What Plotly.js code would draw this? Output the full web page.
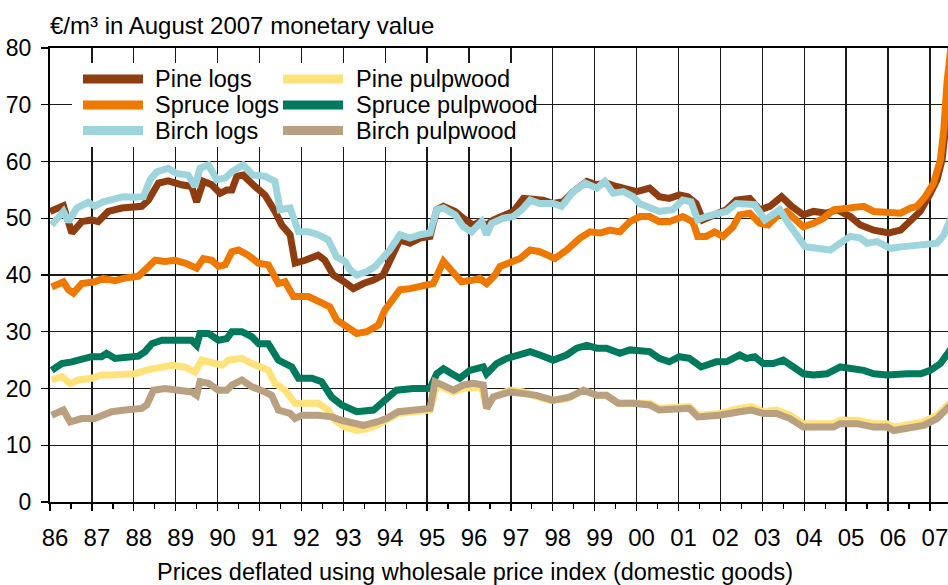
<!DOCTYPE html>
<html><head><meta charset="utf-8">
<script src="https://cdn.plot.ly/plotly-3.0.1.min.js"></script>
<style>html,body{margin:0;padding:0;background:#fff}#chart{width:948px;height:585px}</style>
</head><body><div id="chart"></div>
<script>
// ---- data ----
const yearTicks = [1986,1987,1988,1989,1990,1991,1992,1993,1994,1995,1996,1997,1998,1999,2000,2001,2002,2003,2004,2005,2006,2007];
const yearLabels = ['86','87','88','89','90','91','92','93','94','95','96','97','98','99','00','01','02','03','04','05','06','07'];
const yTicks = [0,10,20,30,40,50,60,70,80];
const seriesNames = ['Pine logs','Spruce logs','Birch logs','Pine pulpwood','Spruce pulpwood','Birch pulpwood'];
const yTitle = '€/m³ in August 2007 monetary value';
const xTitle = 'Prices deflated using wholesale price index (domestic goods)';

// [decimal year, €/m³]
const pineLogs = [[1986.0,51.2],[1986.32,52.2],[1986.52,47.4],[1986.76,49.4],[1986.99,49.7],[1987.15,49.4],[1987.39,51.2],[1987.71,51.8],[1988.19,52.1],[1988.35,53.2],[1988.59,56.2],[1988.82,56.6],[1989.14,55.9],[1989.38,55.6],[1989.5,52.9],[1989.66,56.5],[1989.86,55.9],[1990.06,54.4],[1990.22,55.0],[1990.34,55.0],[1990.46,57.4],[1990.61,57.6],[1990.89,55.6],[1991.13,54.1],[1991.37,51.2],[1991.53,48.8],[1991.73,47.1],[1991.85,42.1],[1992.09,42.6],[1992.25,42.9],[1992.4,43.5],[1992.56,42.6],[1992.76,40.0],[1993.0,38.9],[1993.24,37.6],[1993.48,38.5],[1993.72,39.1],[1993.95,40.0],[1994.11,42.6],[1994.35,46.2],[1994.59,45.6],[1994.83,46.5],[1995.07,46.8],[1995.23,51.5],[1995.39,52.1],[1995.67,51.2],[1995.86,50.0],[1996.1,48.8],[1996.26,49.4],[1996.42,48.8],[1996.58,49.7],[1996.82,50.6],[1997.06,51.2],[1997.3,53.5],[1997.53,53.5],[1997.77,53.2],[1998.01,52.6],[1998.25,52.9],[1998.49,54.7],[1998.81,56.5],[1999.05,55.9],[1999.28,56.2],[1999.52,55.6],[1999.76,55.0],[2000.0,54.7],[2000.31,55.3],[2000.54,53.8],[2000.78,53.5],[2001.02,54.1],[2001.22,53.8],[2001.42,52.6],[2001.58,49.7],[2001.82,50.6],[2002.14,51.5],[2002.38,53.2],[2002.7,53.5],[2002.94,51.5],[2003.18,52.1],[2003.46,53.8],[2003.7,52.1],[2003.98,50.6],[2004.22,51.2],[2004.54,50.9],[2004.78,51.5],[2005.1,50.3],[2005.34,48.8],[2005.66,47.9],[2006.02,47.4],[2006.3,47.9],[2006.54,49.4],[2006.77,51.2],[2007.01,54.4],[2007.17,56.8],[2007.29,60.3],[2007.37,65.5],[2007.45,71.5],[2007.55,78.0]];

const spruceLogs = [[1986.04,37.9],[1986.32,38.8],[1986.44,37.4],[1986.56,36.8],[1986.76,38.5],[1987.07,38.8],[1987.27,39.4],[1987.55,39.0],[1987.75,39.4],[1988.11,39.8],[1988.27,40.9],[1988.51,42.6],[1988.74,42.4],[1988.98,42.6],[1989.22,42.1],[1989.5,41.2],[1989.66,42.9],[1989.86,42.6],[1990.02,41.5],[1990.18,41.8],[1990.34,44.1],[1990.5,44.4],[1990.73,43.5],[1990.97,42.1],[1991.21,41.8],[1991.45,38.5],[1991.61,38.8],[1991.81,36.2],[1992.17,36.2],[1992.48,35.3],[1992.68,34.4],[1992.84,32.1],[1993.04,31.2],[1993.32,29.7],[1993.56,30.0],[1993.84,31.2],[1993.99,33.8],[1994.11,35.0],[1994.35,37.4],[1994.59,37.6],[1994.91,38.2],[1995.15,38.5],[1995.39,42.4],[1995.63,40.6],[1995.82,38.8],[1996.1,39.1],[1996.26,39.4],[1996.42,38.5],[1996.62,40.0],[1996.74,41.5],[1996.98,42.1],[1997.22,42.9],[1997.46,44.4],[1997.69,44.1],[1998.05,42.9],[1998.33,44.4],[1998.65,46.5],[1998.89,47.6],[1999.13,47.4],[1999.36,47.9],[1999.6,47.6],[1999.84,49.4],[2000.08,50.3],[2000.31,50.3],[2000.54,49.4],[2000.78,49.4],[2001.1,50.3],[2001.34,49.4],[2001.46,46.8],[2001.66,46.8],[2001.86,47.6],[2002.06,46.8],[2002.3,48.5],[2002.46,50.6],[2002.7,50.9],[2002.94,49.1],[2003.14,48.8],[2003.34,50.3],[2003.58,51.2],[2003.82,49.7],[2003.98,48.5],[2004.22,49.1],[2004.46,50.0],[2004.7,51.5],[2004.94,51.8],[2005.18,51.8],[2005.42,52.1],[2005.66,51.2],[2005.98,50.9],[2006.3,50.9],[2006.54,51.8],[2006.69,52.1],[2006.89,53.8],[2007.09,56.2],[2007.25,60.3],[2007.33,65.5],[2007.41,74.0],[2007.5,80.0]];

const birchLogs = [[1986.04,48.8],[1986.2,50.0],[1986.32,51.2],[1986.44,49.4],[1986.64,51.8],[1986.91,52.8],[1987.07,52.1],[1987.27,52.9],[1987.47,53.2],[1987.75,53.8],[1988.03,53.7],[1988.23,53.8],[1988.39,56.8],[1988.55,58.2],[1988.82,58.8],[1989.02,57.9],[1989.3,57.6],[1989.46,55.6],[1989.58,58.8],[1989.78,59.4],[1989.98,56.8],[1990.18,57.1],[1990.34,58.2],[1990.61,59.4],[1990.85,57.6],[1991.13,57.4],[1991.37,56.5],[1991.49,51.5],[1991.73,51.8],[1991.93,47.6],[1992.17,47.6],[1992.4,47.1],[1992.64,46.2],[1992.84,43.2],[1993.04,42.4],[1993.16,40.9],[1993.32,40.0],[1993.56,40.6],[1993.76,41.5],[1993.95,43.2],[1994.11,44.4],[1994.35,47.1],[1994.59,46.5],[1994.83,47.1],[1995.07,47.4],[1995.23,51.5],[1995.39,51.8],[1995.67,50.6],[1995.86,48.5],[1996.06,47.6],[1996.3,49.4],[1996.42,47.1],[1996.54,49.1],[1996.82,50.0],[1997.06,50.3],[1997.26,51.5],[1997.46,53.2],[1997.69,52.6],[1998.01,52.6],[1998.21,52.1],[1998.49,54.7],[1998.77,56.2],[1999.05,55.3],[1999.24,56.5],[1999.44,54.4],[1999.68,54.7],[1999.92,53.8],[2000.07,52.6],[2000.39,51.8],[2000.54,51.2],[2000.86,51.5],[2001.1,53.2],[2001.3,52.9],[2001.46,49.7],[2001.66,50.3],[2001.9,50.6],[2002.14,51.2],[2002.38,52.6],[2002.62,52.4],[2002.82,52.4],[2003.06,49.7],[2003.26,50.6],[2003.42,51.5],[2003.62,49.1],[2003.82,46.8],[2004.02,45.0],[2004.3,44.7],[2004.62,44.4],[2004.86,45.6],[2005.1,46.8],[2005.34,46.5],[2005.5,45.6],[2005.74,45.9],[2006.06,44.7],[2006.38,45.0],[2006.69,45.3],[2006.93,45.3],[2007.17,45.6],[2007.33,47.0],[2007.45,49.0],[2007.55,51.0]];

const pinePulp = [[1986.04,21.5],[1986.28,22.1],[1986.48,20.9],[1986.68,21.5],[1986.99,21.8],[1987.23,22.4],[1987.47,22.4],[1987.79,22.4],[1988.03,22.6],[1988.27,23.2],[1988.59,23.8],[1988.9,24.1],[1989.22,23.8],[1989.46,22.9],[1989.62,25.0],[1989.86,24.7],[1990.1,24.1],[1990.26,25.0],[1990.58,25.3],[1990.82,24.4],[1991.05,23.8],[1991.21,23.2],[1991.37,20.9],[1991.61,19.7],[1991.85,17.4],[1992.17,17.4],[1992.4,17.4],[1992.64,16.2],[1992.8,14.4],[1993.04,13.2],[1993.32,12.6],[1993.56,12.9],[1993.8,13.5],[1994.03,14.4],[1994.31,15.6],[1994.67,15.9],[1995.07,16.2],[1995.23,20.6],[1995.39,20.0],[1995.63,19.4],[1995.86,20.0],[1996.1,20.0],[1996.3,20.3],[1996.42,16.5],[1996.58,18.5],[1996.98,19.7],[1997.3,19.4],[1997.53,18.8],[1997.93,17.9],[1998.33,18.2],[1998.73,19.7],[1999.05,18.8],[1999.28,18.8],[1999.56,17.4],[1999.92,17.4],[2000.07,17.6],[2000.31,17.4],[2000.54,16.5],[2000.86,16.5],[2001.26,16.8],[2001.46,15.3],[2001.74,15.3],[2001.98,15.6],[2002.46,16.5],[2002.74,16.8],[2003.02,15.9],[2003.34,16.2],[2003.66,15.3],[2003.98,13.8],[2004.3,13.8],[2004.7,13.8],[2004.86,14.4],[2005.26,14.4],[2005.66,13.8],[2005.98,13.8],[2006.14,13.2],[2006.46,13.5],[2006.85,14.1],[2007.17,15.3],[2007.41,17.1],[2007.55,18.0]];

const sprucePulp = [[1986.04,23.2],[1986.28,24.4],[1986.52,24.7],[1986.76,25.3],[1986.99,25.6],[1987.23,25.6],[1987.35,26.2],[1987.55,25.3],[1987.79,25.6],[1988.11,25.7],[1988.27,26.5],[1988.43,27.9],[1988.67,28.5],[1988.98,28.5],[1989.22,28.2],[1989.38,28.5],[1989.5,27.6],[1989.58,29.7],[1989.78,29.7],[1990.02,28.5],[1990.22,28.8],[1990.34,30.0],[1990.58,30.0],[1990.82,29.1],[1990.98,27.9],[1991.21,27.9],[1991.45,25.0],[1991.61,24.4],[1991.77,23.8],[1991.93,21.8],[1992.25,21.8],[1992.48,21.2],[1992.72,18.5],[1992.96,17.1],[1993.12,16.5],[1993.32,15.9],[1993.72,16.2],[1993.91,17.4],[1994.03,18.2],[1994.27,19.7],[1994.67,20.0],[1995.07,20.0],[1995.23,22.6],[1995.39,23.5],[1995.59,22.6],[1995.78,21.8],[1996.02,23.2],[1996.18,23.5],[1996.34,23.8],[1996.42,22.6],[1996.66,24.4],[1996.9,25.3],[1997.22,25.9],[1997.46,26.5],[1997.69,25.9],[1998.01,25.0],[1998.33,25.9],[1998.57,27.1],[1998.81,27.6],[1999.05,27.1],[1999.28,27.1],[1999.6,26.2],[1999.84,26.8],[2000.16,26.5],[2000.31,26.5],[2000.54,25.3],[2000.78,24.7],[2001.02,25.6],[2001.26,25.3],[2001.54,23.8],[2001.9,24.7],[2002.14,24.7],[2002.46,25.9],[2002.62,25.3],[2002.82,25.6],[2003.02,24.4],[2003.26,24.4],[2003.5,25.0],[2003.74,23.8],[2003.98,22.6],[2004.22,22.4],[2004.54,22.6],[2004.86,23.8],[2005.18,23.5],[2005.42,23.2],[2005.66,22.6],[2005.98,22.4],[2006.46,22.6],[2006.78,22.6],[2007.01,23.2],[2007.25,24.4],[2007.41,26.0],[2007.55,27.5]];

const birchPulp = [[1986.04,15.3],[1986.32,16.2],[1986.48,14.1],[1986.76,14.7],[1987.07,14.7],[1987.23,15.3],[1987.47,15.9],[1987.79,16.2],[1988.19,16.5],[1988.31,17.1],[1988.47,19.7],[1988.74,20.0],[1989.06,19.7],[1989.38,19.4],[1989.5,18.8],[1989.58,21.2],[1989.78,20.9],[1990.02,19.7],[1990.22,19.7],[1990.34,20.6],[1990.58,21.5],[1990.82,20.3],[1991.13,19.4],[1991.29,18.8],[1991.45,16.2],[1991.73,15.6],[1991.85,14.7],[1992.01,15.3],[1992.4,15.3],[1992.72,15.0],[1992.96,14.4],[1993.24,13.8],[1993.48,13.5],[1993.8,14.1],[1994.03,14.7],[1994.31,15.9],[1994.67,16.2],[1995.07,16.5],[1995.19,21.2],[1995.39,20.6],[1995.63,19.7],[1995.86,20.6],[1996.1,20.9],[1996.34,20.6],[1996.42,16.5],[1996.58,18.5],[1996.98,19.4],[1997.3,19.1],[1997.61,18.8],[1998.01,17.9],[1998.41,18.5],[1998.73,19.7],[1999.05,18.8],[1999.28,18.8],[1999.56,17.4],[1999.92,17.4],[2000.07,17.4],[2000.31,17.1],[2000.54,16.2],[2000.86,16.2],[2001.26,16.5],[2001.46,15.0],[2001.74,15.0],[2001.98,15.3],[2002.46,15.9],[2002.74,16.2],[2003.02,15.6],[2003.34,15.6],[2003.66,14.7],[2003.98,13.2],[2004.3,13.2],[2004.7,13.2],[2004.86,13.8],[2005.26,13.8],[2005.66,13.2],[2005.98,13.2],[2006.14,12.6],[2006.46,12.9],[2006.85,13.5],[2007.17,14.7],[2007.41,16.5],[2007.55,17.5]];

// ---- styles ----
const seriesData = [pineLogs, spruceLogs, birchLogs, pinePulp, sprucePulp, birchPulp];
const seriesColors = ['#8E3D10','#EE7800','#9ED5DD','#FFE27A','#00795C','#B8A080'];
const FONT = 'Liberation Sans, Arial, sans-serif';
const FS = 23.5;

const traces = seriesData.map((d, i) => ({
  type: 'scatter', mode: 'lines', name: seriesNames[i],
  x: d.map(p => p[0]), y: d.map(p => p[1]),
  line: {color: seriesColors[i], width: 7},
  showlegend: false, hoverinfo: 'skip'
}));

// plot area geometry (px) for a custom two-column legend
const W = 948, H = 585, mL = 50, mR = 0, mT = 48, mB = 83;
const pw = W - mL - mR, ph = H - mT - mB;
const px2x = px => (px - mL) / pw;
const py2y = py => (H - mB - py) / ph;

const shapes = [{
  type: 'rect', xref: 'paper', yref: 'paper', layer: 'above',
  x0: px2x(72), x1: px2x(533), y0: py2y(147), y1: py2y(63),
  fillcolor: '#ffffff', line: {width: 0}
}];
const annotations = [];
const colLine = [[83,143],[283,343]], colText = [153, 354], rowY = [79, 105, 130.5];
seriesNames.forEach((name, i) => {
  const c = Math.floor(i / 3), r = i % 3;
  shapes.push({type: 'line', xref: 'paper', yref: 'paper', layer: 'above',
    x0: px2x(colLine[c][0]), x1: px2x(colLine[c][1]), y0: py2y(rowY[r]), y1: py2y(rowY[r]),
    line: {color: seriesColors[i], width: 9}});
  annotations.push({xref: 'paper', yref: 'paper', x: px2x(colText[c]), y: py2y(rowY[r]),
    xanchor: 'left', yanchor: 'middle', showarrow: false, text: name,
    font: {family: FONT, size: FS, color: '#000'}});
});
annotations.push({xref: 'paper', yref: 'paper', x: px2x(475), y: py2y(572),
  xanchor: 'center', yanchor: 'middle', showarrow: false, text: xTitle,
  font: {family: FONT, size: FS, color: '#000'}});

const minorVals = yearTicks.map(y => y + 0.5);

const layout = {
  width: W, height: H,
  margin: {l: mL, r: mR, t: mT, b: mB, pad: 0},
  paper_bgcolor: '#fff', plot_bgcolor: '#fff',
  font: {family: FONT, size: FS, color: '#000'},
  title: {text: yTitle, font: {family: FONT, size: 24, color: '#000'},
    xref: 'container', yref: 'container', x: 50 / W, xanchor: 'left', y: 1 - 26 / H, yanchor: 'middle'},
  xaxis: {
    range: [1986, 1986 + pw / 41.9], tickmode: 'array', tickvals: yearTicks, ticktext: yearLabels,
    ticks: 'outside', ticklen: 7, tickwidth: 1.3, tickcolor: '#000',
    showgrid: true, gridcolor: '#1a1a1a', gridwidth: 1.3, zeroline: false,
    showline: true, linecolor: '#000', linewidth: 2, mirror: true,
    ticklabelshift: 5, ticklabelstandoff: 6, ticklabeloverflow: 'allow',
    tickfont: {family: FONT, size: 24, color: '#000'},
    minor: {tickmode: 'array', tickvals: minorVals, ticks: 'outside', ticklen: 5, tickwidth: 1.3, tickcolor: '#000', showgrid: false}
  },
  yaxis: {
    range: [0, 80], tickmode: 'array', tickvals: yTicks,
    ticks: 'outside', ticklen: 7, tickwidth: 1.3, tickcolor: '#000',
    showgrid: true, gridcolor: '#1a1a1a', gridwidth: 1.3, zeroline: false,
    showline: true, linecolor: '#000', linewidth: 2,
    ticklabelstandoff: 5,
    tickfont: {family: FONT, size: 23, color: '#000'}
  },
  shapes: shapes, annotations: annotations,
  showlegend: false
};

Plotly.newPlot('chart', traces, layout, {staticPlot: true, displayModeBar: false});
</script>
</body></html>
